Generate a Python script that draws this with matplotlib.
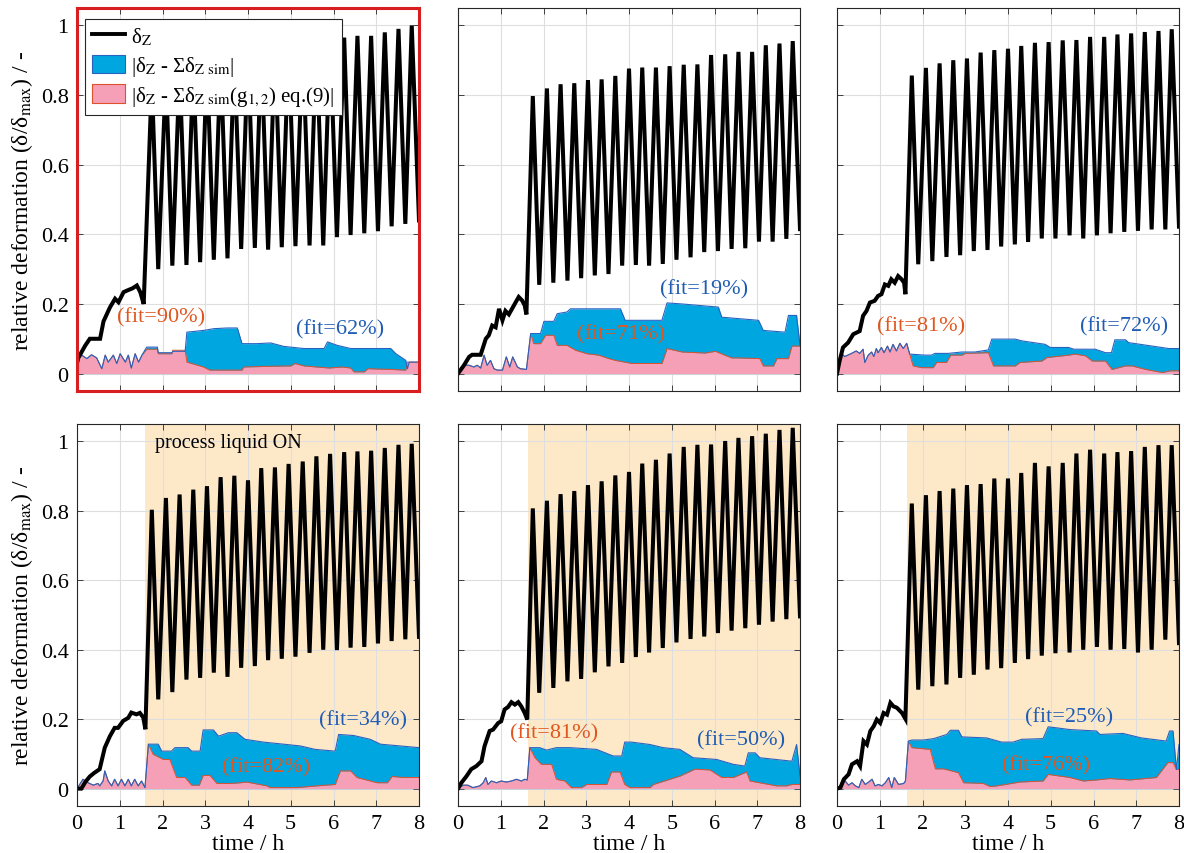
import matplotlib
matplotlib.use("Agg")
import matplotlib.pyplot as plt
from matplotlib.patches import Patch
from matplotlib.lines import Line2D
from matplotlib.ticker import FixedLocator, FixedFormatter

plt.rcParams['font.family'] = ['Liberation Serif', 'DejaVu Serif']
plt.rcParams['mathtext.fontset'] = 'stix'

# ---------------- shared cycle times (h) ----------------
PEAK_T = [1.75, 2.08, 2.40, 2.72, 3.04, 3.36, 3.68, 4.00, 4.31, 4.63,
          4.95, 5.28, 5.60, 5.92, 6.25, 6.56, 6.88, 7.20, 7.52, 7.83]
TROUGH_T = [1.90, 2.23, 2.56, 2.88, 3.20, 3.52, 3.84, 4.16, 4.47, 4.79,
            5.11, 5.44, 5.76, 6.08, 6.40, 6.72, 7.04, 7.36, 7.68]
END_T = 8.0

# ---------------- panel 1 ----------------
P1_PRE_T = [0.00, 0.03, 0.19, 0.30, 0.54, 0.62, 0.77, 0.89, 0.97, 1.09, 1.20, 1.30, 1.40, 1.48, 1.56]
P1_PRE_V = [0.03, 0.045, 0.08, 0.10, 0.10, 0.15, 0.19, 0.215, 0.205, 0.234, 0.24, 0.245, 0.253, 0.234, 0.20]
P1_PEAK_V = [0.84, 0.86, 0.87, 0.88, 0.89, 0.90, 0.91, 0.92, 0.93, 0.93,
             0.94, 0.95, 0.955, 0.96, 0.965, 0.97, 0.97, 0.98, 0.99, 1.00]
P1_TROUGH_V = [0.30, 0.31, 0.312, 0.32, 0.327, 0.331, 0.358, 0.361, 0.356, 0.363,
               0.366, 0.368, 0.368, 0.392, 0.398, 0.403, 0.409, 0.423, 0.43]
P1_END_V = 0.44
P1_NOISE_T = [0.00, 0.11, 0.23, 0.34, 0.46, 0.58, 0.66, 0.73, 0.85, 0.93, 1.01, 1.13, 1.20, 1.27, 1.36, 1.44, 1.52]
P1_NOISE_V = [0.043, 0.053, 0.043, 0.054, 0.045, 0.014, 0.053, 0.033, 0.053, 0.029, 0.057, 0.033, 0.053, 0.016, 0.057, 0.033, 0.053]
P1_BLUE_T = [1.63, 1.88, 1.90, 2.22, 2.24, 2.53, 2.57, 2.96, 3.20, 3.51, 3.75, 3.86, 4.21, 4.53, 4.84,
             5.31, 5.78, 5.86, 6.09, 6.40, 7.03, 7.34, 7.46, 7.69, 7.73, 7.77, 8.00]
P1_BLUE_V = [0.076, 0.076, 0.06, 0.06, 0.064, 0.064, 0.119, 0.124, 0.129, 0.131, 0.131, 0.086, 0.086, 0.088, 0.078,
             0.072, 0.072, 0.091, 0.081, 0.072, 0.072, 0.072, 0.057, 0.038, 0.014, 0.033, 0.033]
P1_PINK_T = [1.63, 1.88, 1.90, 2.22, 2.24, 2.53, 2.57, 2.96, 3.10, 3.86, 3.90, 4.53, 5.00, 5.10, 5.31,
             5.90, 6.20, 6.40, 6.48, 6.72, 6.80, 7.34, 7.69, 7.73, 8.00]
P1_PINK_V = [0.07, 0.07, 0.057, 0.057, 0.067, 0.067, 0.033, 0.019, 0.01, 0.01, 0.019, 0.021, 0.022, 0.029, 0.022,
             0.016, 0.019, 0.016, 0.005, 0.005, 0.014, 0.012, 0.01, 0.033, 0.033]

# ---------------- panel 2 ----------------
P2_PRE_T = [0.00, 0.14, 0.26, 0.33, 0.53, 0.65, 0.72, 0.80, 0.88, 0.96, 1.04, 1.11, 1.19, 1.35, 1.42, 1.50, 1.56, 1.60]
P2_PRE_V = [0.00, 0.024, 0.048, 0.054, 0.054, 0.10, 0.11, 0.138, 0.133, 0.186, 0.153, 0.18, 0.17, 0.205, 0.22, 0.21, 0.196, 0.17]
P2_PEAK_V = [0.797, 0.819, 0.831, 0.834, 0.843, 0.845, 0.855, 0.876, 0.879, 0.879,
             0.883, 0.887, 0.888, 0.915, 0.917, 0.924, 0.924, 0.943, 0.948, 0.955]
P2_TROUGH_V = [0.255, 0.261, 0.267, 0.274, 0.282, 0.286, 0.310, 0.312, 0.310, 0.315,
               0.327, 0.334, 0.349, 0.352, 0.358, 0.36, 0.379, 0.379, 0.387]
P2_END_V = 0.415
P2_NOISE_T = [0.00, 0.14, 0.26, 0.37, 0.45, 0.53, 0.61, 0.68, 0.76, 0.84, 0.92, 1.04, 1.13, 1.21, 1.28, 1.39, 1.46, 1.60]
P2_NOISE_V = [0.00, 0.024, 0.024, 0.019, 0.024, 0.016, 0.053, 0.024, 0.038, 0.014, 0.01, 0.01, 0.048, 0.019, 0.048, 0.019, 0.014, 0.012]
P2_BLUE_T = [1.70, 1.93, 2.01, 2.24, 2.32, 2.55, 2.63, 3.80, 3.91, 4.77, 4.89, 5.24, 6.09, 6.17, 7.03, 7.14, 7.65, 7.73, 7.92, 8.00]
P2_BLUE_V = [0.115, 0.115, 0.15, 0.15, 0.172, 0.177, 0.186, 0.186, 0.153, 0.153, 0.203, 0.20, 0.191, 0.162, 0.153, 0.124, 0.119, 0.167, 0.167, 0.081]
P2_PINK_T = [1.70, 1.77, 1.93, 2.05, 2.24, 2.32, 2.55, 2.75, 3.02, 3.29, 3.53, 3.68, 4.07, 4.77, 4.89, 5.24, 5.78, 6.02,
             6.40, 6.56, 7.06, 7.14, 7.38, 7.46, 7.73, 7.81, 8.00]
P2_PINK_V = [0.115, 0.086, 0.086, 0.11, 0.11, 0.081, 0.081, 0.067, 0.057, 0.053, 0.043, 0.038, 0.029, 0.029, 0.072, 0.062, 0.059, 0.064,
             0.045, 0.045, 0.043, 0.022, 0.022, 0.043, 0.043, 0.079, 0.079]

# ---------------- panel 3 ----------------
P3_PRE_T = [0.00, 0.06, 0.14, 0.26, 0.38, 0.53, 0.61, 0.69, 0.77, 0.88, 0.96, 1.04, 1.12, 1.20, 1.27, 1.35, 1.43, 1.51, 1.57, 1.60]
P3_PRE_V = [0.00, 0.036, 0.075, 0.089, 0.113, 0.122, 0.166, 0.18, 0.204, 0.209, 0.223, 0.228, 0.256, 0.252, 0.271, 0.261, 0.28, 0.271, 0.261, 0.228]
P3_PEAK_V = [0.856, 0.878, 0.891, 0.90, 0.905, 0.922, 0.929, 0.933, 0.941, 0.95,
             0.952, 0.957, 0.958, 0.967, 0.967, 0.974, 0.977, 0.981, 0.984, 0.989]
P3_TROUGH_V = [0.314, 0.323, 0.335, 0.34, 0.352, 0.355, 0.365, 0.371, 0.378, 0.388,
               0.388, 0.397, 0.388, 0.397, 0.403, 0.407, 0.41, 0.414, 0.414]
P3_END_V = 0.422
P3_NOISE_T = [0.00, 0.10, 0.18, 0.34, 0.45, 0.53, 0.61, 0.65, 0.73, 0.81, 0.86, 0.92, 0.96, 1.04, 1.10, 1.18,
              1.24, 1.31, 1.39, 1.47, 1.55, 1.63]
P3_NOISE_V = [0.00, 0.058, 0.049, 0.058, 0.065, 0.058, 0.07, 0.032, 0.053, 0.062, 0.049, 0.072, 0.06, 0.075, 0.06, 0.079,
              0.062, 0.084, 0.065, 0.087, 0.072, 0.087]
P3_BLUE_T = [1.70, 2.06, 2.21, 2.29, 2.60, 2.92, 3.23, 3.54, 3.62, 4.17, 4.32, 4.87, 4.99, 5.42, 5.54, 6.04, 6.28, 6.42,
             6.50, 6.75, 6.82, 7.37, 7.76, 8.00]
P3_BLUE_V = [0.056, 0.053, 0.053, 0.058, 0.058, 0.062, 0.062, 0.068, 0.099, 0.099, 0.094, 0.084, 0.075, 0.075, 0.07, 0.07, 0.06, 0.06,
             0.097, 0.097, 0.089, 0.079, 0.072, 0.072]
P3_PINK_T = [1.70, 1.78, 1.98, 2.25, 2.33, 2.56, 2.66, 2.92, 3.00, 3.54, 3.66, 4.17, 4.28, 4.79, 4.91, 5.42, 5.57, 5.81,
             5.97, 6.28, 6.43, 6.75, 6.90, 7.22, 7.61, 7.80, 8.00]
P3_PINK_V = [0.056, 0.022, 0.017, 0.017, 0.032, 0.032, 0.053, 0.053, 0.058, 0.06, 0.022, 0.022, 0.032, 0.036, 0.046, 0.053, 0.056, 0.051,
             0.036, 0.036, 0.012, 0.022, 0.022, 0.012, 0.003, 0.008, 0.008]

# ---------------- panel 4 ----------------
P4_PRE_T = [0.00, 0.10, 0.20, 0.30, 0.40, 0.53, 0.65, 0.77, 0.88, 0.96, 1.08, 1.20, 1.27, 1.39, 1.47, 1.55, 1.60]
P4_PRE_V = [0.00, 0.00, 0.02, 0.035, 0.045, 0.056, 0.118, 0.151, 0.175, 0.175, 0.195, 0.204, 0.219, 0.214, 0.218, 0.205, 0.171]
P4_PEAK_V = [0.803, 0.837, 0.847, 0.861, 0.871, 0.897, 0.901, 0.888, 0.923, 0.925,
             0.935, 0.942, 0.957, 0.964, 0.969, 0.971, 0.973, 0.981, 0.99, 0.993]
P4_TROUGH_V = [0.257, 0.278, 0.314, 0.319, 0.334, 0.322, 0.348, 0.353, 0.37, 0.374,
               0.38, 0.391, 0.40, 0.399, 0.406, 0.408, 0.418, 0.425, 0.43]
P4_END_V = 0.437
P4_NOISE_T = [0.00, 0.14, 0.26, 0.38, 0.49, 0.53, 0.61, 0.65, 0.73, 0.81, 0.88, 0.96, 1.04, 1.12, 1.20, 1.27,
              1.35, 1.43, 1.51, 1.59]
P4_NOISE_V = [0.00, 0.027, 0.017, 0.01, 0.015, 0.008, 0.022, 0.051, 0.022, 0.008, 0.027, 0.008, 0.027, 0.008, 0.027, 0.008,
              0.027, 0.008, 0.022, 0.003]
P4_BLUE_T = [1.67, 1.90, 1.98, 2.21, 2.29, 2.60, 2.68, 2.88, 2.95, 3.19, 3.31, 3.54, 3.74, 3.93, 4.36, 4.83, 5.22, 5.57,
             6.04, 6.12, 6.47, 6.86, 7.10, 8.00]
P4_BLUE_V = [0.128, 0.128, 0.108, 0.108, 0.118, 0.118, 0.108, 0.108, 0.169, 0.169, 0.151, 0.161, 0.161, 0.142, 0.134, 0.128, 0.123, 0.113,
             0.108, 0.156, 0.153, 0.142, 0.128, 0.118]
P4_PINK_T = [1.67, 1.78, 2.02, 2.17, 2.33, 2.53, 2.68, 2.86, 2.95, 3.11, 3.27, 3.62, 3.82, 3.97, 4.44, 4.52, 5.14, 5.61,
             6.04, 6.16, 6.40, 6.55, 7.02, 7.26, 7.37, 7.65, 8.00]
P4_PINK_V = [0.128, 0.099, 0.084, 0.084, 0.032, 0.032, 0.01, 0.01, 0.038, 0.038, 0.015, 0.015, 0.017, 0.019, 0.008, 0.003, 0.003, 0.008,
             0.012, 0.051, 0.051, 0.032, 0.017, 0.017, 0.035, 0.032, 0.032]

# ---------------- panel 5 ----------------
P5_PRE_T = [0.00, 0.08, 0.20, 0.31, 0.43, 0.55, 0.62, 0.74, 0.82, 0.94, 1.01, 1.09, 1.17, 1.25, 1.33, 1.41, 1.48, 1.56, 1.62]
P5_PRE_V = [0.00, 0.017, 0.036, 0.056, 0.065, 0.079, 0.122, 0.166, 0.17, 0.189, 0.194, 0.228, 0.235, 0.249, 0.242, 0.249, 0.237, 0.218, 0.199]
P5_PEAK_V = [0.807, 0.829, 0.848, 0.857, 0.874, 0.885, 0.902, 0.912, 0.936, 0.947,
             0.965, 0.984, 0.99, 0.991, 1.001, 1.01, 1.015, 1.022, 1.033, 1.039]
P5_TROUGH_V = [0.276, 0.29, 0.309, 0.316, 0.335, 0.352, 0.362, 0.379, 0.392, 0.405,
               0.421, 0.431, 0.438, 0.448, 0.455, 0.462, 0.472, 0.481, 0.488]
P5_END_V = 0.496
P5_NOISE_T = [0.00, 0.12, 0.23, 0.35, 0.51, 0.59, 0.65, 0.70, 0.78, 0.90, 1.01, 1.13, 1.25, 1.37, 1.48, 1.56, 1.62]
P5_NOISE_V = [0.00, 0.01, 0.01, 0.003, 0.008, 0.017, 0.032, 0.012, 0.022, 0.017, 0.022, 0.019, 0.022, 0.027, 0.022, 0.027, 0.025]
P5_BLUE_T = [1.68, 1.91, 2.07, 2.30, 2.62, 3.24, 3.63, 3.83, 3.90, 4.06, 4.49, 4.80, 5.19, 5.50, 6.05, 6.44, 6.71, 6.79,
             6.95, 7.06, 7.81, 7.92, 8.00]
P5_BLUE_V = [0.118, 0.118, 0.111, 0.118, 0.118, 0.113, 0.094, 0.094, 0.134, 0.134, 0.127, 0.118, 0.113, 0.089, 0.084, 0.07, 0.065, 0.103,
             0.103, 0.089, 0.079, 0.127, 0.036]
P5_PINK_T = [1.68, 1.80, 1.95, 2.19, 2.30, 2.50, 2.65, 2.89, 3.01, 3.48, 3.59, 3.79, 3.90, 4.02, 4.49, 4.57, 5.19, 5.54,
             5.89, 6.17, 6.44, 6.75, 6.83, 7.45, 7.69, 7.81, 8.00]
P5_PINK_V = [0.118, 0.089, 0.07, 0.07, 0.027, 0.022, 0.003, 0.003, 0.012, 0.012, 0.048, 0.048, 0.012, 0.003, 0.003, 0.012, 0.036, 0.056,
             0.054, 0.032, 0.032, 0.048, 0.022, 0.008, 0.008, 0.012, 0.012]

# ---------------- panel 6 ----------------
P6_PRE_T = [0.00, 0.08, 0.16, 0.27, 0.35, 0.47, 0.54, 0.62, 0.70, 0.78, 0.86, 0.93, 1.01, 1.09, 1.17, 1.25, 1.32, 1.40, 1.52, 1.60]
P6_PRE_V = [0.00, 0.003, 0.027, 0.041, 0.07, 0.079, 0.065, 0.137, 0.127, 0.166, 0.18, 0.199, 0.189, 0.218, 0.213, 0.247, 0.237, 0.233, 0.218, 0.201]
P6_PEAK_V = [0.821, 0.845, 0.857, 0.864, 0.874, 0.877, 0.893, 0.893, 0.909, 0.938,
             0.928, 0.938, 0.965, 0.976, 0.965, 0.969, 0.972, 0.984, 0.989, 0.989]
P6_TROUGH_V = [0.285, 0.295, 0.30, 0.319, 0.328, 0.343, 0.347, 0.362, 0.373, 0.383,
               0.39, 0.392, 0.40, 0.408, 0.40, 0.402, 0.392, 0.40, 0.429]
P6_END_V = 0.419
P6_NOISE_T = [0.00, 0.08, 0.16, 0.27, 0.35, 0.43, 0.51, 0.58, 0.66, 0.74, 0.82, 0.89, 0.97, 1.05, 1.13, 1.21,
              1.28, 1.34, 1.44, 1.56, 1.60]
P6_NOISE_V = [0.00, 0.008, 0.027, 0.01, 0.017, 0.008, 0.003, 0.027, 0.012, 0.019, 0.027, 0.008, 0.012, 0.008, 0.017, 0.032,
              0.003, 0.032, 0.012, 0.015, 0.022]
P6_BLUE_T = [1.67, 1.75, 2.02, 2.26, 2.57, 2.65, 2.84, 2.92, 3.50, 3.85, 4.12, 4.32, 4.82, 4.94, 5.14, 5.45, 6.07, 6.15,
             6.69, 7.12, 7.70, 7.78, 7.86, 7.94, 8.00]
P6_BLUE_V = [0.137, 0.14, 0.14, 0.144, 0.156, 0.168, 0.168, 0.149, 0.146, 0.134, 0.134, 0.142, 0.144, 0.178, 0.175, 0.17, 0.166, 0.156,
             0.159, 0.146, 0.137, 0.166, 0.166, 0.055, 0.127]
P6_PINK_T = [1.67, 1.75, 2.18, 2.30, 2.49, 2.84, 2.96, 3.42, 3.58, 3.74, 4.28, 4.82, 4.94, 5.45, 5.76, 6.07, 6.38, 6.85,
             7.47, 7.74, 7.86, 7.94, 8.00]
P6_PINK_V = [0.137, 0.118, 0.113, 0.057, 0.057, 0.046, 0.017, 0.015, 0.006, 0.008, 0.019, 0.022, 0.041, 0.032, 0.022, 0.025, 0.029, 0.025,
             0.032, 0.075, 0.075, 0.055, 0.055]

# ---------------- annotations ----------------
FIT_LABELS = [("(fit=90%)", "(fit=62%)"), ("(fit=71%)", "(fit=19%)"), ("(fit=81%)", "(fit=72%)"),
              ("(fit=82%)", "(fit=34%)"), ("(fit=81%)", "(fit=50%)"), ("(fit=76%)", "(fit=25%)")]
FIT_POS_PINK = [(0.94, 0.163), (2.78, 0.115), (0.94, 0.138), (3.40, 0.063), (1.22, 0.161), (3.86, 0.069)]
FIT_POS_BLUE = [(5.12, 0.129), (4.72, 0.244), (5.68, 0.138), (5.66, 0.199), (5.59, 0.141), (4.40, 0.207)]
LIQUID_ON_T = [None, None, None, 1.60, 1.64, 1.64]

# ---------------- styling ----------------
C_BLUE = "#00A6E0"
C_BLUE_EDGE = "#2A62C0"
C_PINK = "#F6A0B8"
C_PINK_EDGE = "#E0502A"
C_TXT_ORANGE = "#E0561E"
C_TXT_BLUE = "#1F5CB4"
C_SHADE = "#FDE8C8"

panels = [
    (P1_PRE_T, P1_PRE_V, P1_PEAK_V, P1_TROUGH_V, P1_END_V, P1_NOISE_T, P1_NOISE_V, P1_BLUE_T, P1_BLUE_V, P1_PINK_T, P1_PINK_V),
    (P2_PRE_T, P2_PRE_V, P2_PEAK_V, P2_TROUGH_V, P2_END_V, P2_NOISE_T, P2_NOISE_V, P2_BLUE_T, P2_BLUE_V, P2_PINK_T, P2_PINK_V),
    (P3_PRE_T, P3_PRE_V, P3_PEAK_V, P3_TROUGH_V, P3_END_V, P3_NOISE_T, P3_NOISE_V, P3_BLUE_T, P3_BLUE_V, P3_PINK_T, P3_PINK_V),
    (P4_PRE_T, P4_PRE_V, P4_PEAK_V, P4_TROUGH_V, P4_END_V, P4_NOISE_T, P4_NOISE_V, P4_BLUE_T, P4_BLUE_V, P4_PINK_T, P4_PINK_V),
    (P5_PRE_T, P5_PRE_V, P5_PEAK_V, P5_TROUGH_V, P5_END_V, P5_NOISE_T, P5_NOISE_V, P5_BLUE_T, P5_BLUE_V, P5_PINK_T, P5_PINK_V),
    (P6_PRE_T, P6_PRE_V, P6_PEAK_V, P6_TROUGH_V, P6_END_V, P6_NOISE_T, P6_NOISE_V, P6_BLUE_T, P6_BLUE_V, P6_PINK_T, P6_PINK_V),
]

W, H = 1184, 854
fig = plt.figure(figsize=(W / 100, H / 100), dpi=100)
col_left = [77, 458, 837]
col_w = 342
row_top = [9, 425]
row_h = [383, 382]

YT = [0, 0.2, 0.4, 0.6, 0.8, 1.0]
YT_LBL = ["0", "0.2", "0.4", "0.6", "0.8", "1"]
XT = [0, 1, 2, 3, 4, 5, 6, 7, 8]

for i, p in enumerate(panels):
    (pre_t, pre_v, peak_v, trough_v, end_v, nz_t, nz_v, b_t, b_v, k_t, k_v) = p
    r, c = divmod(i, 3)
    ax = fig.add_axes([col_left[c] / W, 1 - (row_top[r] + row_h[r]) / H, col_w / W, row_h[r] / H])
    ax.set_xlim(0, 8)
    ax.set_ylim(-0.05, 1.05)

    if LIQUID_ON_T[i] is not None:
        ax.axvspan(LIQUID_ON_T[i], 8, color=C_SHADE, lw=0, zorder=0)

    ax.grid(True, color="#DEDEDE", lw=0.8, zorder=0.5)
    ax.set_axisbelow(True)

    # black deformation curve
    bt = list(pre_t)
    bv = list(pre_v)
    for j in range(len(PEAK_T)):
        bt.append(PEAK_T[j]); bv.append(peak_v[j])
        if j < len(TROUGH_T):
            bt.append(TROUGH_T[j]); bv.append(trough_v[j])
    bt.append(END_T); bv.append(end_v)

    blue_t = list(nz_t) + list(b_t)
    blue_v = list(nz_v) + list(b_v)
    pink_t = list(nz_t) + list(k_t)
    pink_v = list(nz_v) + list(k_v)

    ax.fill_between(blue_t, 0, blue_v, color=C_BLUE, lw=0, zorder=2)
    ax.fill_between(pink_t, 0, pink_v, color=C_PINK, lw=0, zorder=3)
    ax.plot(pink_t, pink_v, color=C_PINK_EDGE, lw=0.7, zorder=4)
    ax.plot(blue_t, blue_v, color=C_BLUE_EDGE, lw=0.8, zorder=4)
    ax.plot(bt, bv, color="black", lw=2.9, solid_joinstyle="miter", zorder=5)

    tp, tb = FIT_LABELS[i]
    ax.text(FIT_POS_PINK[i][0], FIT_POS_PINK[i][1], tp, color=C_TXT_ORANGE, fontsize=16,
            ha="left", va="center", zorder=6)
    ax.text(FIT_POS_BLUE[i][0], FIT_POS_BLUE[i][1], tb, color=C_TXT_BLUE, fontsize=16,
            ha="left", va="center", zorder=6)

    ax.xaxis.set_major_locator(FixedLocator(XT))
    ax.yaxis.set_major_locator(FixedLocator(YT))
    ax.tick_params(direction="in", length=4, width=0.6, top=True, right=True,
                   labelsize=16, colors="#262626", pad=6)
    ax.tick_params(axis="both", labelcolor="black")
    if r == 0:
        ax.set_xticklabels([])
    else:
        ax.set_xticklabels([str(x) for x in XT])
        ax.set_xlabel("time / h", fontsize=17, labelpad=0)
    if c == 0:
        ax.yaxis.set_major_formatter(FixedFormatter(YT_LBL))
        ax.set_ylabel("relative deformation (δ/δ$_{\\mathrm{max}}$) / -", fontsize=17, labelpad=4)
    else:
        ax.set_yticklabels([])

    for s in ax.spines.values():
        s.set_color("#262626")
        s.set_linewidth(0.8)
        s.set_zorder(7)

    if i == 0:
        for s in ax.spines.values():
            s.set_color("#D81E1E")
            s.set_linewidth(2.2)
        handles = [
            Line2D([0], [0], color="black", lw=2.8),
            Patch(facecolor=C_BLUE, edgecolor=C_BLUE_EDGE, lw=0.8),
            Patch(facecolor=C_PINK, edgecolor=C_PINK_EDGE, lw=0.8),
        ]
        labels = [
            "δ$_{\\mathrm{Z}}$",
            "|δ$_{\\mathrm{Z}}$ - Σδ$_{\\mathrm{Z\\ sim}}$|",
            "|δ$_{\\mathrm{Z}}$ - Σδ$_{\\mathrm{Z\\ sim}}$(g$_{1,2}$) eq.(9)|",
        ]
        leg = ax.legend(handles, labels, loc="upper left", bbox_to_anchor=(0.022, 0.972),
                        borderaxespad=0, fontsize=15, frameon=True, fancybox=False,
                        edgecolor="#262626", framealpha=1, handlelength=1.6, handleheight=1.0,
                        handletextpad=0.3, labelspacing=0.3, borderpad=0.35)
        leg.get_frame().set_linewidth(0.8)
        leg.set_zorder(8)

    if i == 3:
        ax.text(1.83, 0.997, "process liquid ON", fontsize=14.5, ha="left", va="center", zorder=6)

fig.savefig("out.png", dpi=100)
